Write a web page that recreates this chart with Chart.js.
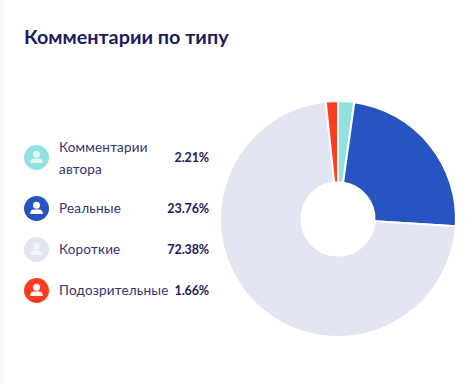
<!DOCTYPE html>
<html><head><meta charset="utf-8">
<script src="https://cdn.jsdelivr.net/npm/chart.js@4"></script>
<style>
html,body{margin:0;padding:0;background:#fff}
body{width:472px;height:384px;position:relative;overflow:hidden;font-family:Lato,"Noto Sans",sans-serif;color:#1b1b5e}
#side{position:absolute;left:0;top:0;width:6px;height:384px;background:linear-gradient(90deg,#f6f6f8,#fff)}
#title{position:absolute;left:24px;top:24px;font-size:19.8px;font-weight:700;line-height:24px;white-space:nowrap;color:#1c1c5e}
#wrap{position:absolute;left:208px;top:89px;width:260px;height:260px}
.row{position:absolute;left:0;width:472px}
.ic{position:absolute;left:24px;width:25px;height:25px;border-radius:50%}
.ic svg{display:block;width:25px;height:25px}
.lb{position:absolute;left:59px;font-size:13.5px;letter-spacing:.2px;line-height:25px;color:#33336f;white-space:nowrap}
.lb.two{line-height:21.5px;top:-8px}
.pc{position:absolute;right:263px;font-size:12.6px;letter-spacing:-.15px;line-height:25px;font-weight:700;color:#1c1c5e;white-space:nowrap}
</style></head><body>
<div id="side"></div>
<div id="title"></div>
<div id="legend"></div>
<div id="wrap"><canvas id="c" width="260" height="260"></canvas></div>
<script>
const chartTitle = "Комментарии по типу";
const categories = [["Комментарии","автора"],["Реальные"],["Короткие"],["Подозрительные"]];
const values = [2.21,23.76,72.38,1.66];
const colors = ["#91e1e1","#2854c2","#e3e5f3","#ff3c1e"];
const iconColors = ["#e4f7f7","#ffffff","#f3f4fa","#ffffff"];
const rowTops = [145,196,237,278];

document.getElementById('title').textContent = chartTitle;
const lg = document.getElementById('legend');
categories.forEach((lines,i)=>{
  const r=document.createElement('div');r.className='row';r.style.top=rowTops[i]+'px';
  const ic=document.createElement('div');ic.className='ic';ic.style.background=colors[i];
  ic.innerHTML=`<svg viewBox="0 0 25 25"><circle cx="12.5" cy="9.3" r="3.5" fill="${iconColors[i]}"/><path d="M6.2 18 q0-4.4 4-4.4 h4.6 q4 0 4 4.4 z" fill="${iconColors[i]}"/></svg>`;
  r.appendChild(ic);
  const lb=document.createElement('div');lb.className='lb';
  if(lines.length>1){lb.classList.add('two');lb.innerHTML=lines.join('<br>');}else{lb.textContent=lines[0];}
  r.appendChild(lb);
  const pc=document.createElement('div');pc.className='pc';pc.textContent=values[i].toFixed(2)+'%';r.appendChild(pc);
  lg.appendChild(r);
});
new Chart(document.getElementById('c'),{
  type:'doughnut',
  data:{labels:categories.map(l=>l.join(' ')),datasets:[{data:values,backgroundColor:colors,borderColor:'#fff',borderWidth:2,hoverOffset:0}]},
  options:{responsive:false,animation:false,cutout:'31%',rotation:0,layout:{padding:11},
    plugins:{legend:{display:false},tooltip:{enabled:false},title:{display:false}}}
});
</script></body></html>
